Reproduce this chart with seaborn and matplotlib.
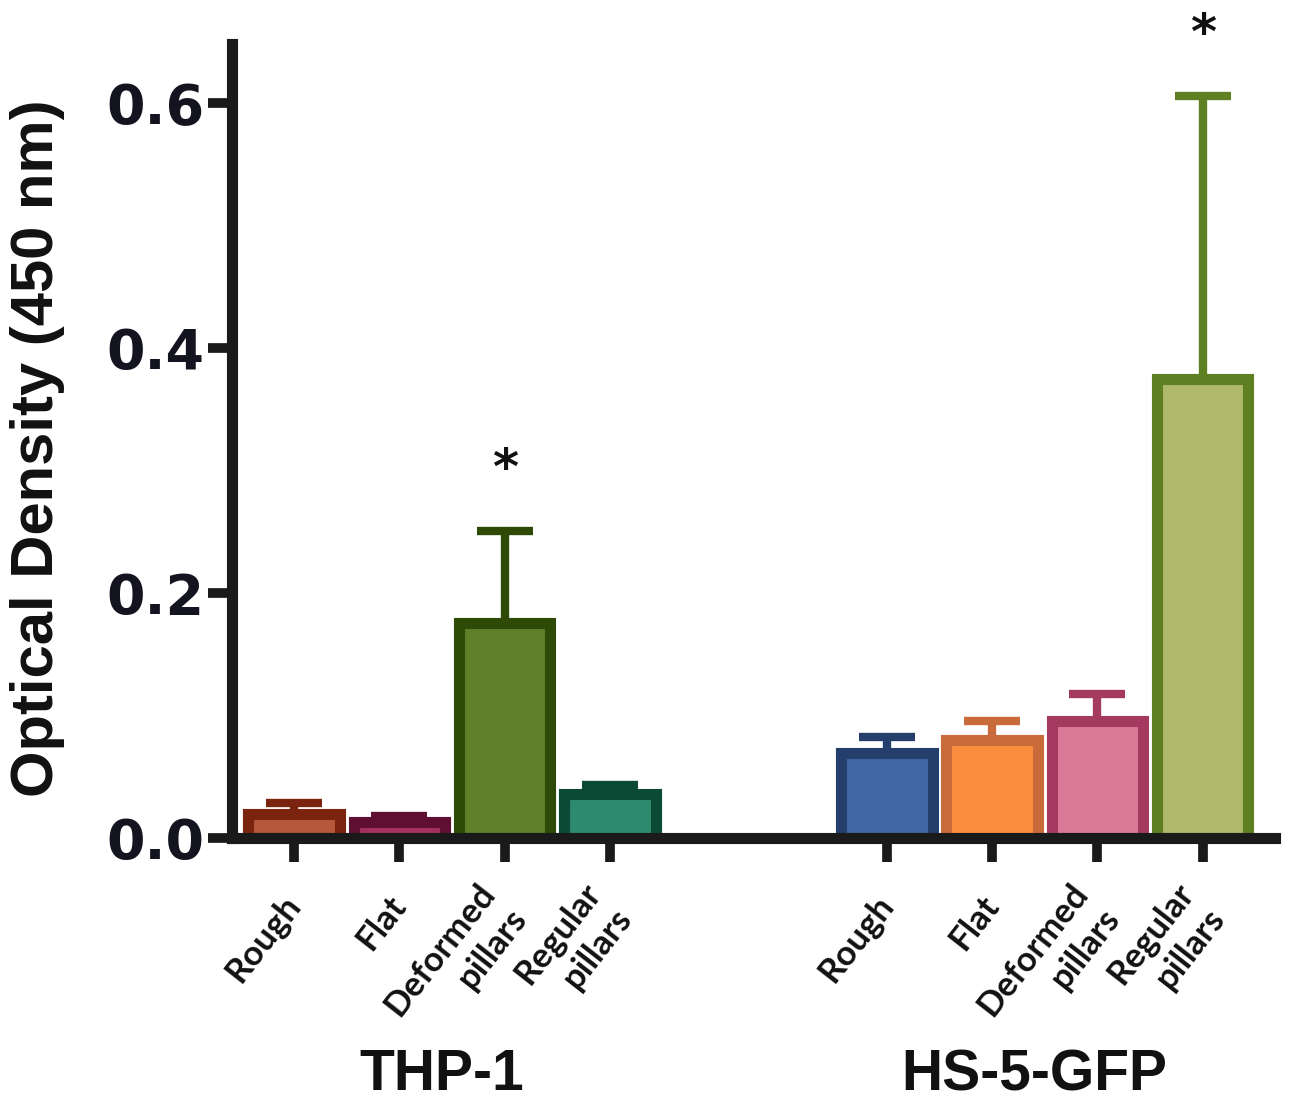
import numpy as np
import pandas as pd
import matplotlib
matplotlib.use("Agg")
import matplotlib.pyplot as plt
import matplotlib.transforms as mtransforms
import seaborn as sns

# -------------------------------
# data
# -------------------------------
groups = ["THP-1", "HS-5-GFP"]
surfaces = ["Rough", "Flat", "Deformed\npillars", "Regular\npillars"]
thp1_mean = [0.020, 0.0135, 0.176, 0.036]
thp1_err = [0.009, 0.0045, 0.075, 0.008]
hs5_mean = [0.070, 0.080, 0.096, 0.375]
hs5_err = [0.013, 0.016, 0.022, 0.231]
# bar positions along x (second group sits further right)
positions = [0, 1, 2, 3, 5.63, 6.63, 7.63, 8.63]
face_colors = ["#b5583c", "#a3325d", "#607f2b", "#2e8a6e",
               "#4268a3", "#fb8d3f", "#d97a98", "#b0b86b"]
edge_colors = ["#7a2410", "#5f0f31", "#2f4a06", "#0d4a36",
               "#243f6b", "#c96a3a", "#a53a61", "#5f7f23"]
significant = [2, 7]   # bars marked with *

df = pd.DataFrame({
    "pos": positions,
    "surface": surfaces * 2,
    "group": [groups[0]] * 4 + [groups[1]] * 4,
    "mean": thp1_mean + hs5_mean,
    "err": thp1_err + hs5_err,
})

# -------------------------------
# figure
# -------------------------------
sns.set_theme(style="white")
plt.rcParams["font.family"] = ["DejaVu Sans"]

fig = plt.figure(figsize=(12.96, 11.12), dpi=100)
ax = fig.add_axes([0.179, 0.246, 0.805, 0.714])

sns.barplot(data=df, x="pos", y="mean", native_scale=True, width=0.87,
            errorbar=None, linewidth=8, ax=ax)

bars = sorted(ax.patches, key=lambda p: p.get_x())
for bar, fc, ec in zip(bars, face_colors, edge_colors):
    bar.set_facecolor(fc)
    bar.set_edgecolor(ec)
    bar.set_linewidth(8)
    bar.set_joinstyle("miter")

# upper error bars only
for i, row in df.iterrows():
    ax.errorbar(row["pos"], row["mean"], yerr=[[0], [row["err"]]], fmt="none",
                ecolor=edge_colors[i], elinewidth=6, capsize=20, capthick=6,
                zorder=0.5)

# significance marks
for i in significant:
    top = df.loc[i, "mean"] + df.loc[i, "err"]
    ax.text(df.loc[i, "pos"], top + 0.050, "*", ha="center", va="center",
            fontsize=36, fontweight="bold", color="#111111", clip_on=False)

# axes
ax.set_xlim(-0.59, 9.32)
ax.set_ylim(0, 0.648)
ax.set_yticks([0.0, 0.2, 0.4, 0.6])
ax.set_yticklabels(["0.0", "0.2", "0.4", "0.6"], fontsize=40,
                   fontweight="bold", color="#141420")
ax.set_xticks(positions)
ax.set_xticklabels(df["surface"], rotation=52, ha="right", va="center",
                   rotation_mode="anchor", fontsize=25, fontweight="bold",
                   family=["Lato", "DejaVu Sans"], color="#111111",
                   multialignment="right", linespacing=1.3)
shift = mtransforms.ScaledTranslation(-0.12, 0, fig.dpi_scale_trans)
for lab in ax.get_xticklabels():
    lab.set_transform(lab.get_transform() + shift)
ax.tick_params(axis="y", length=17, width=7, color="#1a1a1a", pad=3, left=True)
ax.tick_params(axis="x", length=17, width=7, color="#1a1a1a", pad=27, bottom=True)
ax.set_xlabel("")

for side in ["top", "right"]:
    ax.spines[side].set_visible(False)
for side in ["left", "bottom"]:
    ax.spines[side].set_linewidth(8)
    ax.spines[side].set_color("#1a1a1a")
    ax.spines[side].set_zorder(3)

ax.set_ylabel("Optical Density (450 nm)", fontsize=43, fontweight="bold",
              family=["Liberation Sans", "DejaVu Sans"], color="#111111")
ax.yaxis.set_label_coords(-0.160, 0.492)

# group labels under each set of bars
trans = mtransforms.blended_transform_factory(ax.transData, ax.transAxes)
group_centers = [np.mean(positions[:4]) - 0.1, np.mean(positions[4:]) - 0.1]
for g, cx in zip(groups, group_centers):
    ax.text(cx, -0.2985, g, transform=trans, ha="center", va="center",
            fontsize=41, fontweight="bold", family=["Liberation Sans", "DejaVu Sans"],
            color="#111111")

fig.savefig("out.png", dpi=100)
